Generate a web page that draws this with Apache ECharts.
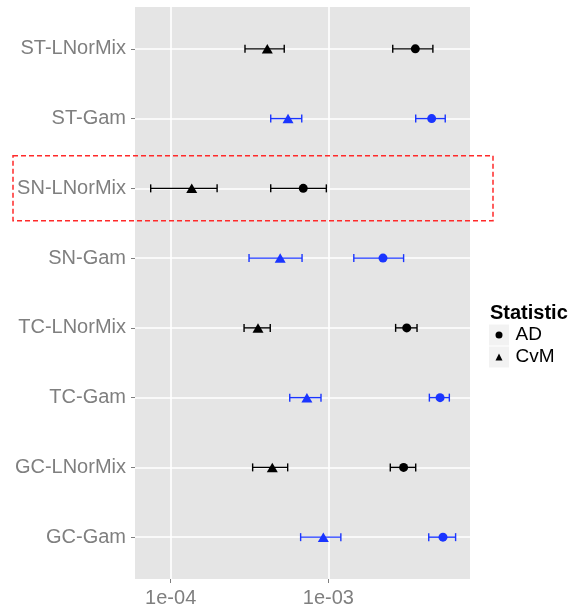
<!DOCTYPE html>
<html><head><meta charset="utf-8">
<script src="https://cdn.jsdelivr.net/npm/echarts@6/dist/echarts.min.js"></script>
<style>html,body{margin:0;padding:0;background:#fff}#c{width:568px;height:614px}</style>
</head><body><div id="c"></div>
<script>
// ---- data (top to bottom) ----
const categories = ['ST-LNorMix','ST-Gam','SN-LNorMix','SN-Gam','TC-LNorMix','TC-Gam','GC-LNorMix','GC-Gam'];
const adEst   = [3.56e-3, 4.52e-3, 6.93e-4, 2.22e-3, 3.14e-3, 5.11e-3, 3.00e-3, 5.33e-3];
const adLow   = [2.56e-3, 3.58e-3, 4.31e-4, 1.45e-3, 2.67e-3, 4.37e-3, 2.47e-3, 4.33e-3];
const adHigh  = [4.60e-3, 5.51e-3, 9.71e-4, 3.00e-3, 3.65e-3, 5.85e-3, 3.58e-3, 6.41e-3];
const cvmEst  = [4.10e-4, 5.55e-4, 1.36e-4, 4.95e-4, 3.58e-4, 7.31e-4, 4.41e-4, 9.29e-4];
const cvmLow  = [2.96e-4, 4.31e-4, 7.47e-5, 3.14e-4, 2.92e-4, 5.69e-4, 3.31e-4, 6.67e-4];
const cvmHigh = [5.25e-4, 6.78e-4, 1.97e-4, 6.81e-4, 4.28e-4, 8.98e-4, 5.52e-4, 1.20e-3];
const xTickValues = [1e-4, 1e-3];
const xTickLabels = ['1e-04', '1e-03'];
const xMinorBreaks = [3.162e-4, 3.162e-3];
const xMin = 5.94e-5, xMax = 7.91e-3;
const legendTitle = 'Statistic';
const highlighted = 'SN-LNorMix';

// ---- styles ----
const BLUE = '#1a35ff', BLACK = '#000000';
const FONT = '"Liberation Sans", Arial, sans-serif';
const colorFor = name => /Gam$/.test(name) ? BLUE : BLACK;
const yIdx = categories.map((c, i) => i);

function errRender(params, api) {
  const y = api.value(2);
  const lo = api.coord([api.value(0), y]);
  const hi = api.coord([api.value(1), y]);
  const col = colorFor(categories[y]);
  const h = 4;
  const st = { stroke: col, lineWidth: 1.4 };
  return { type: 'group', children: [
    { type: 'line', shape: { x1: lo[0], y1: lo[1], x2: hi[0], y2: hi[1] }, style: st },
    { type: 'line', shape: { x1: lo[0], y1: lo[1]-h, x2: lo[0], y2: lo[1]+h }, style: st },
    { type: 'line', shape: { x1: hi[0], y1: hi[1]-h, x2: hi[0], y2: hi[1]+h }, style: st }
  ]};
}

const chart = echarts.init(document.getElementById('c'), null, { renderer: 'canvas' });
const option = {
  backgroundColor: '#ffffff',
  animation: false,
  grid: { left: 135, right: 98, top: 7, bottom: 35, show: true, backgroundColor: '#e5e5e5', borderWidth: 0 },
  xAxis: {
    type: 'log', logBase: 10, min: xMin, max: xMax,
    axisLine: { show: false, onZero: false },
    axisTick: { show: true, length: 4, lineStyle: { color: '#7f7f7f', width: 1 }, customValues: xTickValues },
    axisLabel: { customValues: xTickValues, margin: 9, fontSize: 20, color: '#7f7f7f', fontFamily: FONT,
      formatter: v => { const k = xTickValues.findIndex(t => Math.abs(Math.log10(t) - Math.log10(v)) < 1e-6); return k >= 0 ? xTickLabels[k] : ''; } },
    splitLine: { show: true, lineStyle: { color: '#ffffff', width: 1.6 } }
  },
  yAxis: {
    type: 'value', inverse: true, min: -0.6, max: 7.6,
    axisLine: { show: false, onZero: false },
    axisTick: { show: true, length: 4, lineStyle: { color: '#7f7f7f', width: 1 }, customValues: yIdx },
    axisLabel: { customValues: yIdx, margin: 9, fontSize: 20, color: '#7f7f7f', fontFamily: FONT,
      formatter: v => categories[Math.round(v)] || '' },
    splitLine: { show: true, lineStyle: { color: '#ffffff', width: 1.6 } }
  },
  legend: {
    orient: 'vertical', left: 495.5, top: 324, padding: 0, itemGap: 0,
    itemWidth: 7, itemHeight: 7,
    formatter: name => '{t|' + name + '}',
    textStyle: { fontSize: 19, color: '#000', fontFamily: FONT, lineHeight: 22,
      rich: { t: { fontSize: 19, color: '#000', fontFamily: FONT, lineHeight: 22, padding: [0, 0, 0, 8] } } },
    data: ['AD', 'CvM']
  },
  graphic: [
    { type: 'rect', z: -1, shape: { x: 489, y: 324.5, width: 20, height: 21 }, style: { fill: '#f2f2f2' } },
    { type: 'rect', z: -1, shape: { x: 489, y: 346.5, width: 20, height: 21 }, style: { fill: '#f2f2f2' } },
    { type: 'text', style: { x: 490, y: 313, text: legendTitle, font: 'bold 20px ' + FONT, fill: '#000', verticalAlign: 'middle' } }
  ],
  series: [
    { name: 'minor', type: 'line', data: [], silent: true,
      markLine: { silent: true, symbol: 'none', label: { show: false },
        lineStyle: { color: '#f2f2f2', width: 1, type: 'solid' },
        data: xMinorBreaks.map(v => ({ xAxis: v })) } },
    { name: 'AD-err', type: 'custom', renderItem: errRender, encode: { x: [0, 1], y: 2 },
      data: categories.map((c, i) => [adLow[i], adHigh[i], i]) },
    { name: 'CvM-err', type: 'custom', renderItem: errRender, encode: { x: [0, 1], y: 2 },
      data: categories.map((c, i) => [cvmLow[i], cvmHigh[i], i]) },
    { name: 'AD', type: 'scatter', symbol: 'circle', symbolSize: 9, z: 5, itemStyle: { color: BLACK, opacity: 1 },
      data: categories.map((c, i) => ({ value: [adEst[i], i], itemStyle: { color: colorFor(c) } })) },
    { name: 'CvM', type: 'scatter', symbol: 'triangle', symbolSize: [11, 9.5], z: 5, itemStyle: { color: BLACK, opacity: 1 },
      data: categories.map((c, i) => ({ value: [cvmEst[i], i], itemStyle: { color: colorFor(c) } })) }
  ]
};
chart.setOption(option);
const yc = chart.convertToPixel({ yAxisIndex: 0 }, categories.indexOf(highlighted));
chart.setOption({ graphic: option.graphic.concat([
  { type: 'rect', z: 10, shape: { x: 13, y: yc - 32.5, width: 480, height: 65 },
    style: { fill: null, stroke: '#ff2a2a', lineWidth: 1.5, lineDash: [5, 3] } }
]) });
</script></body></html>
